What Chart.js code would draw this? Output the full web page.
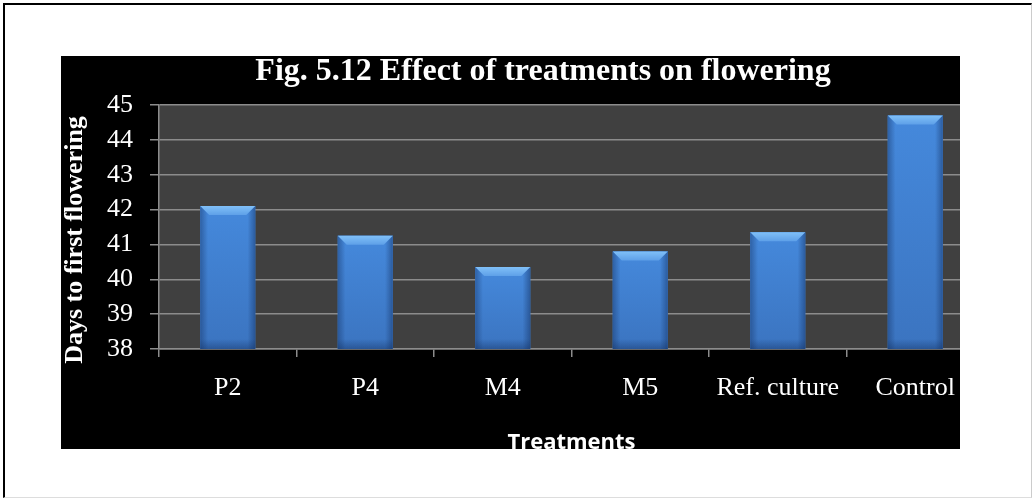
<!DOCTYPE html>
<html>
<head>
<meta charset="utf-8">
<script src="https://cdn.jsdelivr.net/npm/chart.js@4/dist/chart.umd.min.js"></script>
<style>
  html, body { margin: 0; padding: 0; background: #fff; }
  body { width: 1034px; height: 499px; position: relative; overflow: hidden; }
  #frame {
    position: absolute; left: 3px; top: 3px; width: 1029px; height: 495px;
    border-left: 2px solid #000; border-top: 2px solid #000;
    border-right: 1px solid #ccc; border-bottom: 1px solid #ddd;
    box-sizing: border-box;
  }
  #panel {
    position: absolute; left: 61px; top: 56px; width: 899px; height: 393px;
    background: #000; overflow: hidden;
  }
  #panel canvas { position: absolute; left: 0; top: -8px; }
</style>
</head>
<body>
<div id="frame"></div>
<div id="panel">
  <canvas id="flowerChart" width="964" height="412"></canvas>
</div>
<script>
const treatments = ['P2', 'P4', 'M4', 'M5', 'Ref. culture', 'Control'];
const daysToFlowering = [42.1, 41.25, 40.35, 40.8, 41.35, 44.7];
const yTicks = [38, 39, 40, 41, 42, 43, 44, 45];

const serif = '"Liberation Serif", "Times New Roman", serif';

// dark plot background
const plotBg = {
  id: 'plotBg',
  beforeDraw(chart) {
    const { ctx, chartArea: a } = chart;
    ctx.save();
    ctx.fillStyle = '#404040';
    ctx.fillRect(a.left, a.top, a.right - a.left, a.bottom - a.top);
    ctx.restore();
  }
};

// bevelled blue bars, drawn over the library's bar elements
const bevelBars = {
  id: 'bevelBars',
  afterDatasetsDraw(chart) {
    const ctx = chart.ctx;
    const area = chart.chartArea;
    chart.getDatasetMeta(0).data.forEach(bar => {
      const w = bar.width, l = bar.x - w / 2, r = bar.x + w / 2;
      const t = bar.y, b = Math.min(bar.base, area.bottom), bev = 9;
      ctx.save();
      // body
      let g = ctx.createLinearGradient(0, t, 0, b);
      g.addColorStop(0, '#4589dc');
      g.addColorStop(1, '#3b74c0');
      ctx.fillStyle = g;
      ctx.fillRect(l, t, w, b - t);
      // side shading
      g = ctx.createLinearGradient(l, 0, r, 0);
      g.addColorStop(0, 'rgba(20,50,100,0.45)');
      g.addColorStop(0.14, 'rgba(20,50,100,0)');
      g.addColorStop(0.86, 'rgba(20,50,100,0)');
      g.addColorStop(1, 'rgba(20,50,100,0.5)');
      ctx.fillStyle = g;
      ctx.fillRect(l, t, w, b - t);
      // bottom band
      g = ctx.createLinearGradient(0, b - 10, 0, b);
      g.addColorStop(0, 'rgba(20,50,100,0)');
      g.addColorStop(1, 'rgba(20,50,100,0.45)');
      ctx.fillStyle = g;
      ctx.fillRect(l, b - 10, w, 10);
      // top bevel
      g = ctx.createLinearGradient(0, t, 0, t + bev);
      g.addColorStop(0, '#80c0f8');
      g.addColorStop(1, '#5ea0e8');
      ctx.fillStyle = g;
      ctx.beginPath();
      ctx.moveTo(l, t);
      ctx.lineTo(r, t);
      ctx.lineTo(r - bev, t + bev);
      ctx.lineTo(l + bev, t + bev);
      ctx.closePath();
      ctx.fill();
      ctx.restore();
    });
  }
};

new Chart(document.getElementById('flowerChart'), {
  type: 'bar',
  data: {
    labels: treatments,
    datasets: [{
      label: 'Days to first flowering',
      data: daysToFlowering,
      backgroundColor: '#3f80d0',
      borderWidth: 0,
      barPercentage: 0.8,
      categoryPercentage: 0.5
    }]
  },
  options: {
    responsive: false,
    animation: false,
    events: [],
    layout: { padding: 0 },
    plugins: {
      legend: { display: false },
      tooltip: { enabled: false },
      title: {
        display: true,
        text: 'Fig. 5.12 Effect of treatments on flowering',
        color: '#fff',
        font: { family: serif, size: 32, weight: 'bold', lineHeight: 1.2 },
        padding: { top: 5, bottom: 13.6 }
      }
    },
    scales: {
      x: {
        grid: {
          drawOnChartArea: false,
          drawTicks: true,
          tickLength: 8,
          color: '#8c8c8c',
          lineWidth: 1.5
        },
        border: { color: '#8c8c8c', width: 1.5 },
        ticks: {
          color: '#fff',
          padding: 16,
          maxRotation: 0,
          font: { family: serif, size: 26, lineHeight: 1.2 }
        },
        title: {
          display: true,
          text: 'Treatments',
          color: '#fff',
          font: { family: '"Open Sans", "Liberation Sans", sans-serif', size: 22, weight: 'bold', lineHeight: 1.2 },
          padding: { top: 0, bottom: 4 }
        },
        afterFit: s => { s.height = 111; }
      },
      y: {
        min: 38,
        max: 45,
        afterBuildTicks: s => { s.ticks = yTicks.map(v => ({ value: v })); },
        grid: {
          color: '#8c8c8c',
          lineWidth: 1.5,
          tickLength: 9
        },
        border: { color: '#8c8c8c', width: 1.5 },
        ticks: {
          color: '#fff',
          padding: 17,
          font: { family: serif, size: 26, lineHeight: 1.2 }
        },
        title: {
          display: true,
          text: 'Days to first flowering    ',
          color: '#fff',
          font: { family: serif, size: 26, weight: 'bold', lineHeight: 1 },
          padding: 1
        },
        afterFit: s => { s.width = 98; }
      },
      yRight: {
        type: 'linear',
        position: 'right',
        display: true,
        grid: { display: false },
        border: { display: false },
        ticks: { display: false },
        afterFit: s => { s.width = 41; }
      }
    }
  },
  plugins: [plotBg, bevelBars]
});
</script>
</body>
</html>
